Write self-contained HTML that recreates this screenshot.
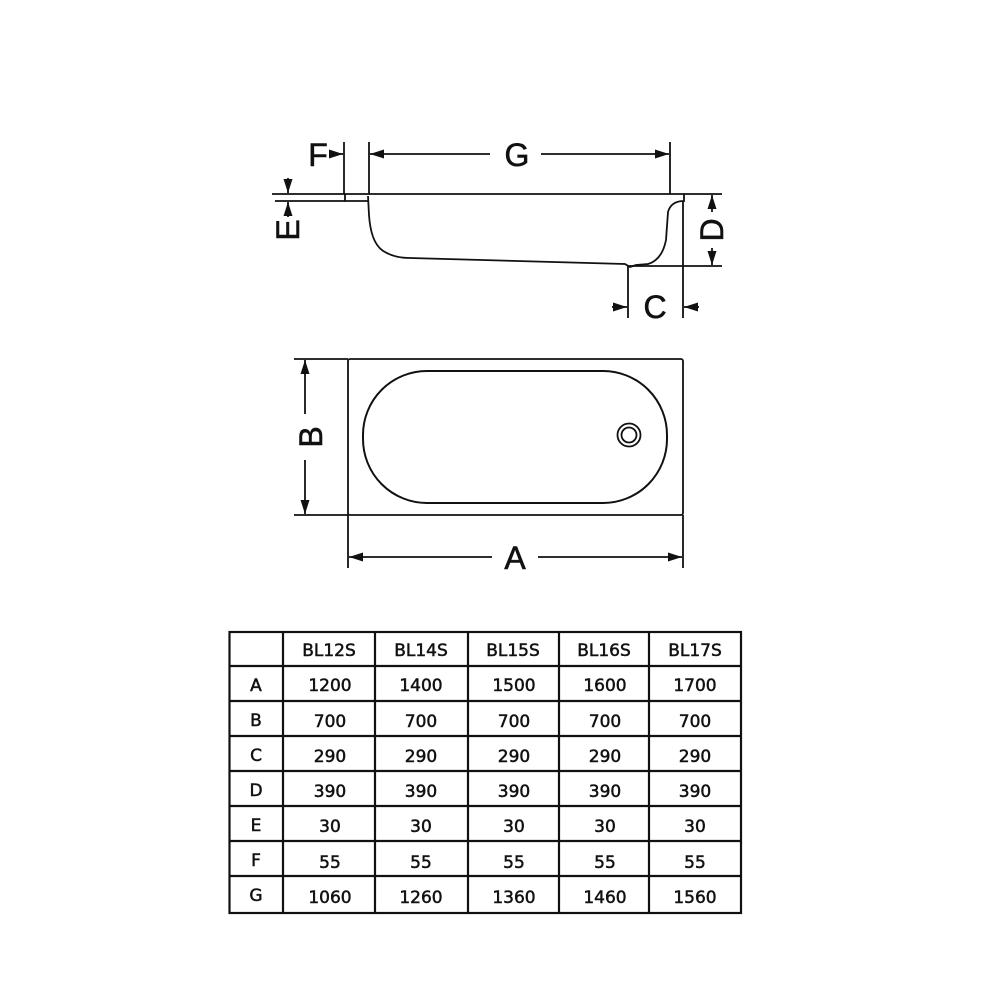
<!DOCTYPE html>
<html><head><style>body{margin:0;background:#fff}svg{display:block}</style></head><body>
<svg width="1000" height="1000" viewBox="0 0 1000 1000" xmlns="http://www.w3.org/2000/svg" font-family="Liberation Sans, sans-serif">
<defs>
<marker id="ar" viewBox="0 0 14 10" refX="14" refY="5" markerWidth="14" markerHeight="10" markerUnits="userSpaceOnUse" orient="auto"><path d="M0,0.5 L14,5 L0,9.5 z" fill="#111"/></marker>
</defs>
<g stroke="#111" stroke-width="1.8" fill="none">
<!-- side view -->
<line x1="272" y1="194" x2="722" y2="194"/>
<line x1="275" y1="201" x2="345" y2="201"/>
<path d="M345,194 L345,201 L368,201"/>
<path d="M368,196 L369,215 Q371,245 385,252 Q395,258 410,258 L625,264 L630,267 L636,265 L648,264 Q662,260 666,240 L668,212 Q671,201 684,201 L684,194"/>
<line x1="344" y1="142" x2="344" y2="194"/>
<line x1="369" y1="142" x2="369" y2="194"/>
<line x1="670" y1="142" x2="670" y2="194"/>
<line x1="628" y1="266" x2="722" y2="266"/>
<line x1="628" y1="266" x2="628" y2="318"/>
<line x1="683" y1="201" x2="683" y2="318"/>
<line x1="490" y1="154" x2="370" y2="154" marker-end="url(#ar)"/>
<line x1="541" y1="154" x2="669" y2="154" marker-end="url(#ar)"/>
<line x1="330" y1="154" x2="343" y2="154" marker-end="url(#ar)"/>
<line x1="288" y1="178" x2="288" y2="193" marker-end="url(#ar)"/>
<line x1="288" y1="217" x2="288" y2="202" marker-end="url(#ar)"/>
<line x1="712" y1="212" x2="712" y2="195" marker-end="url(#ar)"/>
<line x1="712" y1="248" x2="712" y2="265" marker-end="url(#ar)"/>
<line x1="612" y1="307" x2="627" y2="307" marker-end="url(#ar)"/>
<line x1="699" y1="307" x2="684" y2="307" marker-end="url(#ar)"/>
<!-- top view -->
<rect x="348" y="359" width="335" height="156" rx="2"/>
<rect x="363" y="371" width="304" height="132" rx="64" ry="64" stroke-width="2"/>
<circle cx="629" cy="435" r="11.5"/>
<circle cx="629" cy="435" r="7.5"/>
<line x1="294" y1="359" x2="348" y2="359"/>
<line x1="294" y1="515" x2="348" y2="515"/>
<line x1="305" y1="414" x2="305" y2="360" marker-end="url(#ar)"/>
<line x1="305" y1="460" x2="305" y2="514" marker-end="url(#ar)"/>
<line x1="348" y1="515" x2="348" y2="568"/>
<line x1="683" y1="515" x2="683" y2="568"/>
<line x1="492" y1="557" x2="349" y2="557" marker-end="url(#ar)"/>
<line x1="538" y1="557" x2="682" y2="557" marker-end="url(#ar)"/>
</g>
<g fill="#111" font-size="32" text-anchor="middle" stroke="#111" stroke-width="0.6">
<text x="318" y="166">F</text>
<text x="517" y="166">G</text>
<text x="655" y="318">C</text>
<text x="515" y="569">A</text>
<text transform="translate(299,230) rotate(-90)">E</text>
<text transform="translate(723,230) rotate(-90)">D</text>
<text transform="translate(322,437) rotate(-90)">B</text>
</g>
<g stroke="#111" stroke-width="2.2" fill="none">
<rect x="229.5" y="632" width="511.5" height="281"/>
<line x1="283" y1="632" x2="283" y2="913"/>
<line x1="375" y1="632" x2="375" y2="913"/>
<line x1="468" y1="632" x2="468" y2="913"/>
<line x1="559" y1="632" x2="559" y2="913"/>
<line x1="649" y1="632" x2="649" y2="913"/>
<line x1="229.5" y1="666" x2="741" y2="666"/>
<line x1="229.5" y1="701" x2="741" y2="701"/>
<line x1="229.5" y1="736" x2="741" y2="736"/>
<line x1="229.5" y1="771" x2="741" y2="771"/>
<line x1="229.5" y1="806" x2="741" y2="806"/>
<line x1="229.5" y1="841" x2="741" y2="841"/>
<line x1="229.5" y1="876" x2="741" y2="876"/>
</g>
<g fill="#111" font-size="17" text-anchor="middle" font-family="DejaVu Sans, sans-serif" stroke="#111" stroke-width="0.5">
<text x="329" y="656">BL12S</text><text x="421" y="656">BL14S</text><text x="513" y="656">BL15S</text><text x="604" y="656">BL16S</text><text x="695" y="656">BL17S</text>
<text x="256" y="691">A</text><text x="330" y="691">1200</text><text x="421" y="691">1400</text><text x="514" y="691">1500</text><text x="605" y="691">1600</text><text x="695" y="691">1700</text>
<text x="256" y="726">B</text><text x="330" y="727">700</text><text x="421" y="727">700</text><text x="514" y="727">700</text><text x="605" y="727">700</text><text x="695" y="727">700</text>
<text x="256" y="761">C</text><text x="330" y="762">290</text><text x="421" y="762">290</text><text x="514" y="762">290</text><text x="605" y="762">290</text><text x="695" y="762">290</text>
<text x="256" y="796">D</text><text x="330" y="797">390</text><text x="421" y="797">390</text><text x="514" y="797">390</text><text x="605" y="797">390</text><text x="695" y="797">390</text>
<text x="256" y="831">E</text><text x="330" y="832">30</text><text x="421" y="832">30</text><text x="514" y="832">30</text><text x="605" y="832">30</text><text x="695" y="832">30</text>
<text x="256" y="866">F</text><text x="330" y="868">55</text><text x="421" y="868">55</text><text x="514" y="868">55</text><text x="605" y="868">55</text><text x="695" y="868">55</text>
<text x="256" y="901">G</text><text x="330" y="903">1060</text><text x="421" y="903">1260</text><text x="514" y="903">1360</text><text x="605" y="903">1460</text><text x="695" y="903">1560</text>
</g>
</svg>
</body></html>
